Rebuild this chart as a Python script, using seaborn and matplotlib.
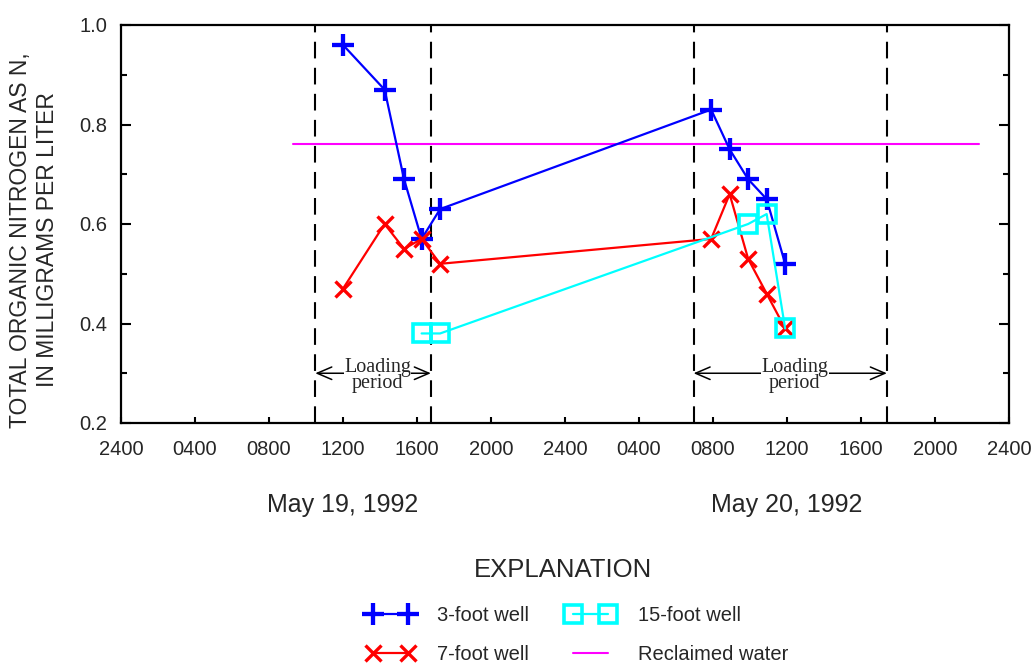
import matplotlib
matplotlib.use("Agg")
import matplotlib.pyplot as plt
from matplotlib.lines import Line2D
from matplotlib.ticker import MultipleLocator, FormatStrFormatter, NullLocator
import seaborn as sns

# Sampling times, in hours after 2400 on May 18, 1992
hours_3ft = [12.0, 14.25, 15.3, 16.25, 17.25, 31.9, 32.9, 33.9, 34.9, 35.9]
nitrogen_3ft = [0.96, 0.87, 0.69, 0.57, 0.63, 0.83, 0.75, 0.69, 0.65, 0.52]

hours_7ft = [12.0, 14.25, 15.3, 16.25, 17.25, 31.9, 32.9, 33.9, 34.9, 35.9]
nitrogen_7ft = [0.47, 0.60, 0.55, 0.57, 0.52, 0.57, 0.66, 0.53, 0.46, 0.39]

hours_15ft = [16.25, 17.25, 33.9, 34.9, 35.9]
nitrogen_15ft = [0.38, 0.38, 0.60, 0.62, 0.39]

reclaimed_hours = [9.3, 46.4]
reclaimed_nitrogen = [0.76, 0.76]

# Start and end of each loading period, hours
loading_periods = [(10.5, 16.75), (30.95, 41.4)]

tick_hours = [0, 4, 8, 12, 16, 20, 24, 28, 32, 36, 40, 44, 48]
tick_labels = ["2400", "0400", "0800", "1200", "1600", "2000", "2400",
               "0400", "0800", "1200", "1600", "2000", "2400"]
date_hours = [12, 36]
date_labels = ["May 19, 1992", "May 20, 1992"]

BLUE = "#0000ff"
RED = "#ff0000"
CYAN = "#00ffff"
MAGENTA = "#ff00ff"

sns.set_style("ticks")
plt.rcParams["font.family"] = ["Liberation Sans", "DejaVu Sans"]

W, H = 1035, 666
fig = plt.figure(figsize=(W / 100, H / 100), dpi=100)
ax = fig.add_axes([121 / W, 1 - 423 / H, 888 / W, 398 / H])

# Loading-period boundaries
for start, end in loading_periods:
    for xv in (start, end):
        ax.axvline(xv, color="black", lw=1.5, dashes=(8, 4.5), zorder=1)

sns.lineplot(x=hours_3ft, y=nitrogen_3ft, ax=ax, color=BLUE, lw=1.6,
             marker="+", markersize=15.5, markeredgewidth=3.1, markeredgecolor=BLUE,
             legend=False, zorder=3)
sns.lineplot(x=hours_7ft, y=nitrogen_7ft, ax=ax, color=RED, lw=1.6,
             marker="x", markersize=12, markeredgewidth=2.4, markeredgecolor=RED,
             legend=False, zorder=3)
sns.lineplot(x=hours_15ft, y=nitrogen_15ft, ax=ax, color=CYAN, lw=1.6,
             marker="s", markersize=12.5, markeredgewidth=2.6, markeredgecolor=CYAN,
             markerfacecolor="none", legend=False, zorder=3)
sns.lineplot(x=reclaimed_hours, y=reclaimed_nitrogen, ax=ax, color=MAGENTA,
             lw=1.5, legend=False, zorder=2)

# Loading-period arrows and labels
for start, end in loading_periods:
    ax.annotate("", xy=(start, 0.30), xytext=(end, 0.30),
                arrowprops=dict(arrowstyle="<->,head_length=0.7,head_width=0.3",
                                color="black", lw=1.1, shrinkA=0, shrinkB=0,
                                mutation_scale=15), zorder=4)
    mid = (start + end) / 2 + 0.25
    ax.text(mid, 0.2955, "Loading\nperiod", ha="center", va="center",
            multialignment="center", fontsize=14.5, linespacing=0.78,
            family="Liberation Serif", zorder=5,
            bbox=dict(fc="white", ec="none", pad=0.2))

ax.set_xlim(0, 48)
ax.set_ylim(0.2, 1.0)
ax.set_xticks(tick_hours, tick_labels)
ax.xaxis.set_minor_locator(NullLocator())
ax.yaxis.set_major_locator(MultipleLocator(0.2))
ax.yaxis.set_minor_locator(MultipleLocator(0.1))
ax.yaxis.set_major_formatter(FormatStrFormatter("%.1f"))

ax.tick_params(axis="x", which="major", direction="in", length=4, width=1.5,
               labelsize=14.5, pad=12, top=False, color="black")
ax.tick_params(axis="y", which="major", direction="in", length=7.5, width=1.5,
               labelsize=14.5, pad=10, left=True, right=True, color="black")
ax.tick_params(axis="y", which="minor", direction="in", length=4.5, width=1.5,
               left=True, right=True, color="black")
for sp in ax.spines.values():
    sp.set_visible(True)
    sp.set_color("black")
    sp.set_linewidth(1.6)

ax.set_xlabel("")
ax.set_ylabel("TOTAL ORGANIC NITROGEN AS N,\nIN MILLIGRAMS PER LITER",
              fontsize=16.5, linespacing=1.25, ha="center", va="center",
              rotation_mode="default")
ax.yaxis.set_label_coords(-0.098, 0.46)

for h, lab in zip(date_hours, date_labels):
    ax.text(h, -0.2236, lab, transform=ax.get_xaxis_transform(),
            ha="center", va="baseline", fontsize=18)

fig.text(563 / W, 1 - 577 / H, "EXPLANATION", ha="center", va="baseline",
         fontsize=18.5)

handles = [
    Line2D([], [], color=BLUE, lw=1.6, marker="+", markersize=15.5,
           markeredgewidth=3.1),
    Line2D([], [], color=RED, lw=1.6, marker="x", markersize=12,
           markeredgewidth=2.4),
    Line2D([], [], color=CYAN, lw=1.6, marker="s", markersize=12.5,
           markeredgewidth=2.6, markerfacecolor="none"),
    Line2D([], [], color=MAGENTA, lw=1.5),
]
labels = ["3-foot well", "7-foot well", "15-foot well", "Reclaimed water"]
fig.legend(handles, labels, ncol=2, loc="upper left",
           bbox_to_anchor=(366.7 / W, 1 - 606 / H), frameon=False,
           fontsize=14.5, numpoints=2, handlelength=2.34, handletextpad=1.17,
           columnspacing=1.88, labelspacing=0.98, borderpad=0, borderaxespad=0)

fig.savefig("out.png", dpi=100)
